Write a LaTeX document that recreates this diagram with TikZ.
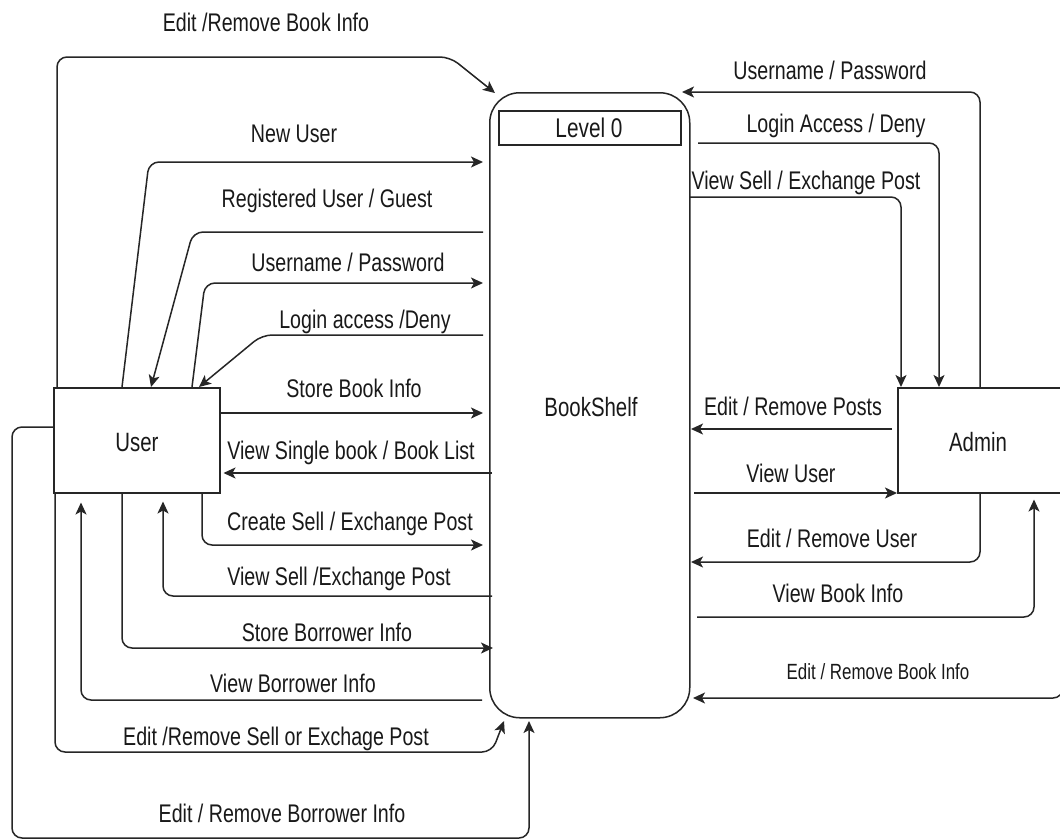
\documentclass[tikz,border=0pt]{standalone}
\usepackage{fontspec}
\setmainfont{Liberation Sans}[FakeStretch=0.77]
\usetikzlibrary{arrows.meta}
\begin{document}
\begin{tikzpicture}[x=1pt,y=-1pt,line width=1.5pt,
  ink/.style={draw=black!85},
  flow/.style={ink, rounded corners=10pt, -{Stealth[length=12pt,width=11pt,inset=3pt]}},
  lbl/.style={font=\fontsize{25.5}{28}\selectfont, inner sep=0pt, anchor=base, text=black!90},
  slbl/.style={font=\fontsize{22}{24}\selectfont, inner sep=0pt, anchor=base, text=black!90},
  box/.style={ink, inner sep=0pt, anchor=north west},
  btxt/.style={font=\fontsize{26.5}{28}\selectfont, inner sep=0pt, anchor=base, text=black!90}]
\useasboundingbox (0,0) rectangle (1060,839);
\clip (0,0) rectangle (1060,839);
\fill[white] (0,0) rectangle (1060,839);

% boxes
\node[box, minimum width=166pt, minimum height=105pt] (user) at (53,387) {};
\node[btxt] (usertext) at (137,451) {User};
\node[box, rounded corners=30pt, minimum width=200pt, minimum height=625pt] (shelf) at (489,92) {};
\node[btxt] (shelftext) at (591,416) {BookShelf};
\node[box, minimum width=182pt, minimum height=34pt] (level) at (498,110) {};
\node[btxt, font=\fontsize{27}{29}\selectfont] (leveltext) at (589,137) {Level 0};
\node[box, minimum width=170pt, minimum height=105pt] (admin) at (897,387) {};
\node[btxt] (admintext) at (978,451) {Admin};

% left connectors
\draw[flow] (user.north -| 57,0) -- (57,57) -- (450,57) -- (495,93);
\draw[flow] (user.north -| 122,0) -- (149,162) -- (483,162);
\draw[flow] (483,232) -- (193,232) -- (user.north -| 151,0);
\draw[flow] (user.north -| 192,0) -- (205,283) -- (483,283);
\draw[flow] (483,335) -- (262,335) -- (user.north -| 199,0);
\draw[flow] (user.east |- 0,413) -- (483,413);
\draw[flow, shorten >=3pt] (492,473) -- (user.east |- 0,473);
\draw[flow] (user.south -| 202,0) -- (202,545) -- (483,545);
\draw[flow, shorten >=8pt] (492,596) -- (163,596) -- (user.south -| 163,0);
\draw[flow] (user.south -| 122,0) -- (122,648) -- (493,648);
\draw[flow, shorten >=9pt] (482,700) -- (81,700) -- (user.south -| 81,0);
\draw[flow] (user.south -| 55,0) -- (55,752) -- (492,752) -- (504,721);
\draw[flow] (user.west |- 0,427) -- (12,427) -- (12,838) -- (529,838) -- (529,721);

% right connectors
\draw[flow] (admin.north -| 980,0) -- (980,92) -- (682,92);
\draw[flow] (698,143) -- (939,143) -- (admin.north -| 939,0);
\draw[flow] (689,197) -- (901,197) -- (admin.north -| 901,0);
\draw[flow, shorten <=5pt] (admin.west |- 0,429) -- (691,429);
\draw[flow] (694,493) -- (admin.west |- 0,493);
\draw[flow] (admin.south -| 980,0) -- (980,562) -- (691,562);
\draw[flow, shorten >=6pt] (697,617) -- (1034,617) -- (admin.south -| 1034,0);
\draw[flow] (admin.south -| 1063,0) -- (1063,698) -- (693,698);

% labels
\node[lbl] (l1) at (266,31) {Edit /Remove Book Info};
\node[lbl] (l2) at (294,142) {New User};
\node[lbl] (l3) at (327,207) {Registered User / Guest};
\node[lbl] (l4) at (348,271) {Username / Password};
\node[lbl] (l5) at (365,328) {Login access /Deny};
\node[lbl] (l6) at (354,397) {Store Book Info};
\node[lbl] (l7) at (351,459) {View Single book / Book List};
\node[lbl] (l8) at (350,530) {Create Sell / Exchange Post};
\node[lbl] (l9) at (339,585) {View Sell /Exchange Post};
\node[lbl] (l10) at (327,641) {Store Borrower Info};
\node[lbl] (l11) at (293,692) {View Borrower Info};
\node[lbl] (l12) at (276,745) {Edit /Remove Sell or Exchage Post};
\node[lbl] (l13) at (282,822) {Edit / Remove Borrower Info};
\node[lbl] (l14) at (830,79) {Username / Password};
\node[lbl] (l15) at (836,132) {Login Access / Deny};
\node[lbl] (l16) at (806,189) {View Sell / Exchange Post};
\node[lbl] (l17) at (793,415) {Edit / Remove Posts};
\node[lbl] (l18) at (791,482) {View User};
\node[lbl] (l19) at (832,547) {Edit / Remove User};
\node[lbl] (l20) at (838,602) {View Book Info};
\node[slbl] (l21) at (878,679) {Edit / Remove Book Info};
\end{tikzpicture}
\end{document}
